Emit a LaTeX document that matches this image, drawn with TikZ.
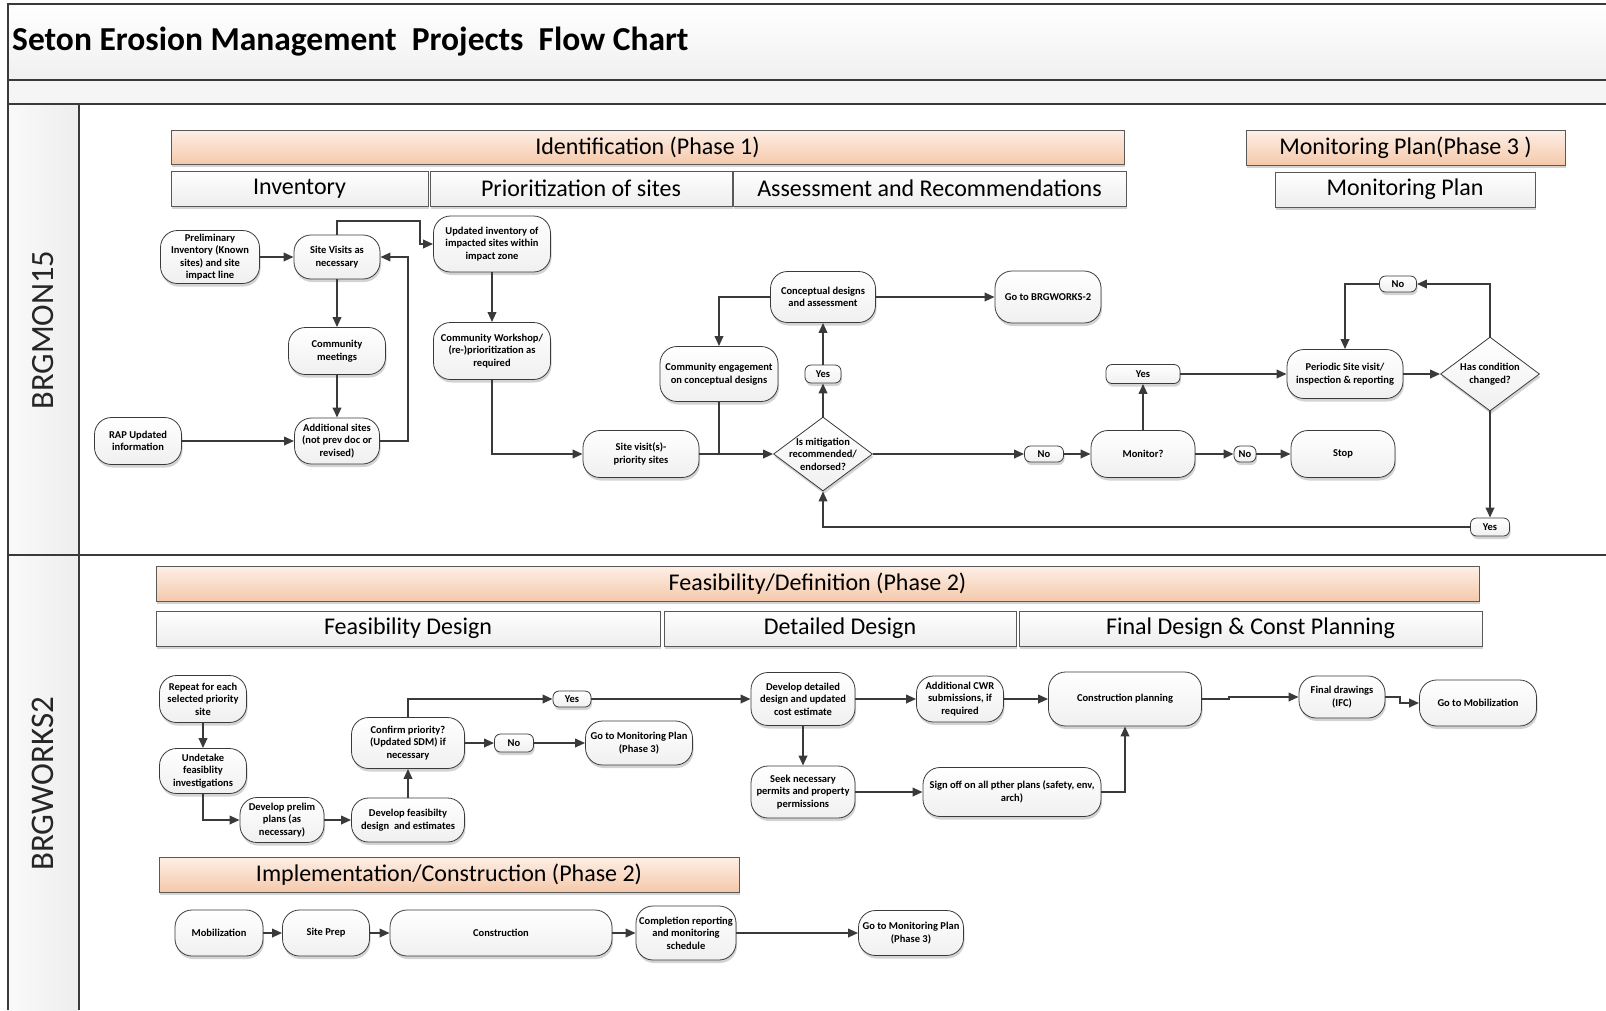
\documentclass[tikz,border=0pt]{standalone}
\usepackage{fontspec}
\setmainfont{Carlito}
\usetikzlibrary{shapes.geometric,arrows.meta,shadows}
\definecolor{lnc}{HTML}{3A3A3A}
\definecolor{peachT}{HTML}{FDEFE6}
\definecolor{peachB}{HTML}{F5C9AB}
\newcommand\nfont{\fontsize{10.5}{12.5}\selectfont\bfseries}
\newcommand\hfont{\fontsize{24}{28}\selectfont}
\tikzset{
  shad/.style={drop shadow={shadow xshift=1pt,shadow yshift=-3pt,opacity=0.35}},
  proc/.style 2 args={draw=lnc,line width=0.8pt,rounded corners=17pt,top color=white,bottom color=gray!12,
     minimum width=#1,minimum height=#2,inner sep=1pt,align=center,font=\nfont,shad},
  yn/.style 2 args={draw=lnc,line width=0.8pt,rounded corners=6pt,top color=white,bottom color=gray!12,
     minimum width=#1,minimum height=#2,inner sep=0pt,font=\nfont,shad},
  dia/.style={diamond,draw=lnc,line width=0.8pt,top color=white,bottom color=gray!12,
     minimum width=99pt,minimum height=74pt,inner sep=0pt,aspect=1.34,shad},
  dtext/.style={font=\nfont,align=center,inner sep=0pt},
  phase/.style 2 args={draw=gray!70!black,line width=0.8pt,top color=peachT,bottom color=peachB,
     minimum width=#1,minimum height=#2,inner sep=0pt,font=\hfont,shad},
  sub/.style 2 args={draw=gray!70!black,line width=0.8pt,top color=white,bottom color=gray!14,
     minimum width=#1,minimum height=#2,inner sep=0pt,font=\hfont,shad},
  conn/.style={draw=lnc,line width=2pt},
  arr/.style={draw=lnc,line width=2pt,-{Triangle[length=10pt,width=8.5pt]}},
  frame/.style={draw=lnc,line width=1.8pt},
}
\begin{document}
\begin{tikzpicture}[x=1pt,y=-1pt]
\useasboundingbox (0,0) rectangle (1606,1010);
% frame backgrounds
\fill[top color=white,bottom color=gray!12] (8,4) rectangle (1606,80);
\fill[gray!8] (8,80) rectangle (1606,104);
\fill[left color=gray!4,right color=gray!14] (8,104) rectangle (79,1010);
\draw[frame] (1606,4) -- (8,4) -- (8,1010);
\draw[frame] (8,80) -- (1606,80);
\draw[frame] (8,104) -- (1606,104);
\draw[frame] (79,104) -- (79,1010);
\draw[frame] (8,555) -- (1606,555);
\node[anchor=west,font=\fontsize{33.5}{38}\selectfont\bfseries,inner sep=0pt] (title) at (12,42) {Seton Erosion Management~ Projects~ Flow Chart};
\node[rotate=90,font=\fontsize{32.5}{38}\selectfont,text=black!85] (lane1) at (43,330) {BRGMON15};
\node[rotate=90,font=\fontsize{33}{38}\selectfont,text=black!85] (lane2) at (43,784) {BRGWORKS2};

% headers
\node[phase={953pt}{34pt}] (ph1) at (647.5,147) {Identification (Phase 1)};
\node[sub={257pt}{35pt}] (inv) at (299.5,188.5) {Inventory};
\node[sub={302pt}{35pt}] (prio) at (581,188.5) {Prioritization of sites};
\node[sub={393pt}{35pt}] (assess) at (929.5,188.5) {Assessment and Recommendations};
\node[phase={319pt}{35pt}] (ph3) at (1405.5,147.5) {Monitoring Plan(Phase 3 )};
\node[sub={260pt}{35pt}] (mplan) at (1405,189.5) {Monitoring Plan};
\node[phase={1323pt}{35pt}] (ph2) at (817.5,583.5) {Feasibility/Definition (Phase 2)};
\node[sub={504pt}{35pt}] (fdes) at (408,628.5) {Feasibility Design};
\node[sub={352pt}{35pt}] (ddes) at (840,628.5) {Detailed Design};
\node[sub={463pt}{35pt}] (fdcp) at (1250.5,628.5) {Final Design \& Const Planning};
\node[phase={580pt}{35pt}] (impl) at (449,874.5) {Implementation/Construction (Phase 2)};

% ---------- BRGMON15 lane ----------
\node[proc={99pt}{53pt}] (prelim) at (210,257) {Preliminary\\Inventory (Known\\sites) and site\\impact line};
\node[proc={86pt}{44pt}] (sv) at (337,257) {Site Visits as\\necessary};
\node[proc={117pt}{56pt}] (upd) at (492,244) {Updated inventory of\\impacted sites within\\impact zone};
\node[proc={97pt}{47pt}] (cm) at (337,351) {Community\\meetings};
\node[proc={117pt}{57pt}] (cw) at (492,351) {Community Workshop/\\(re-)prioritization as\\required};
\node[proc={87pt}{47pt}] (rap) at (138,441) {RAP Updated\\information};
\node[proc={85pt}{46pt}] (add) at (337,441) {Additional sites\\(not prev doc or\\revised)};
\node[proc={116pt}{47pt}] (svp) at (641,454) {Site visit(s)-\\priority sites};
\node[proc={118pt}{55pt}] (ce) at (719,374) {Community engagement\\on conceptual designs};
\node[proc={105pt}{51pt}] (cd) at (823,297) {Conceptual designs\\and assessment};
\node[proc={106pt}{52pt}] (gbw) at (1048,297) {Go to BRGWORKS-2};
\node[yn={36pt}{18pt}] (yes1) at (823,374) {Yes};
\node[dia] (mit) at (823,454) {};
\node[dtext] (mittxt) at (mit) {Is mitigation\\recommended/\\endorsed?};
\node[yn={39pt}{16pt}] (no1) at (1044,454) {No};
\node[proc={104pt}{47pt}] (mon) at (1143,454) {Monitor?};
\node[yn={22pt}{16pt}] (no2) at (1245,454) {No};
\node[proc={104pt}{47pt}] (stop) at (1343,454) {Stop};
\node[yn={74pt}{19pt}] (yes2) at (1143,374) {Yes};
\node[proc={116pt}{49pt}] (per) at (1345,374) {Periodic Site visit/\\inspection \& reporting};
\node[dia] (hcc) at (1490,374) {};
\node[dtext] (hcctxt) at (hcc) {Has condition\\changed?};
\node[yn={37pt}{16pt}] (no3) at (1398,284) {No};
\node[yn={39pt}{18pt}] (yes3) at (1490,527) {Yes};

\draw[arr] (prelim) -- (sv);
\draw[arr] (sv.north) -- (337,221) -- (420,221) |- (upd.west);
\draw[arr] (sv) -- (cm);
\draw[arr] (cm) -- (add);
\draw[arr] (rap) -- (add);
\draw[arr] (add.east) -- (408,441) |- (sv.east);
\draw[arr] (upd) -- (cw);
\draw[arr] (cw.south) |- (svp.west);
\draw[arr] (svp) -- (mit);
\draw[conn] (ce.south) -- (ce.south |- svp.east);
\draw[arr] (cd.west) -| (ce.north);
\draw[arr] (mit.north) -- (yes1.south);
\draw[arr] (yes1.north) -- (cd.south);
\draw[arr] (cd) -- (gbw);
\draw[arr] (mit.east) -- (no1.west);
\draw[arr] (no1) -- (mon);
\draw[arr] (mon) -- (no2);
\draw[arr] (no2) -- (stop);
\draw[arr] (mon.north) -- (yes2.south);
\draw[arr] (yes2) -- (per);
\draw[arr] (per) -- (hcc.west);
\draw[arr] (hcc.north) |- (no3.east);
\draw[arr] (no3.west) -| (per.north);
\draw[arr] (hcc.south) -- (yes3.north);
\draw[arr] (yes3.west) -| (mit.south);

% ---------- BRGWORKS2 lane ----------
\node[proc={87pt}{47pt}] (rep) at (203,699) {Repeat for each\\selected priority\\site};
\node[proc={87pt}{45pt}] (und) at (203,771) {Undetake\\feasiblity\\investigations};
\node[proc={84pt}{45pt}] (pre) at (282,820) {Develop prelim\\plans (as\\necessary)};
\node[proc={113pt}{44pt}] (dfe) at (408,820) {Develop feasibilty\\design~ and estimates};
\node[proc={113pt}{51pt}] (cp) at (408,743) {Confirm priority?\\(Updated SDM) if\\necessary};
\node[yn={38pt}{16pt}] (yes4) at (572,699) {Yes};
\node[yn={39pt}{18pt}] (no4) at (514,743) {No};
\node[proc={107pt}{44pt}] (gmp) at (639,743) {Go to Monitoring Plan\\(Phase 3)};
\node[proc={104pt}{53pt}] (ddd) at (803,699) {Develop detailed\\design and updated\\cost estimate};
\node[proc={87pt}{46pt}] (cwr) at (960,699) {Additional CWR\\submissions, if\\required};
\node[proc={153pt}{54pt}] (cpl) at (1125,699) {Construction planning};
\node[proc={86pt}{42pt}] (fdr) at (1342,697) {Final drawings\\(IFC)};
\node[proc={117pt}{46pt}] (gmob) at (1478,703) {Go to Mobilization};
\node[proc={104pt}{52pt}] (seek) at (803,792) {Seek necessary\\permits and property\\permissions};
\node[proc={178pt}{49pt}] (sign) at (1012,792) {Sign off on all pther plans (safety, env,\\arch)};

\draw[arr] (rep) -- (und);
\draw[arr] (und.south) |- (pre.west);
\draw[arr] (pre) -- (dfe);
\draw[arr] (dfe) -- (cp);
\draw[arr] (cp.north) |- (yes4.west);
\draw[arr] (yes4) -- (ddd);
\draw[arr] (cp) -- (no4);
\draw[arr] (no4) -- (gmp);
\draw[arr] (ddd) -- (cwr);
\draw[arr] (cwr) -- (cpl);
\draw[arr] (ddd) -- (seek);
\draw[arr] (seek) -- (sign);
\draw[arr] (sign.east) -| (cpl.south);
\draw[arr] (cpl.east) -- (1229,699) |- (fdr.west);
\draw[arr] (fdr.east) -- (1400,697) |- (gmob.west);

% implementation row
\node[proc={88pt}{46pt}] (mob) at (219,933) {Mobilization};
\node[proc={87pt}{46pt}] (sp) at (326,933) {Site Prep};
\node[proc={222pt}{46pt}] (con) at (501,933) {Construction};
\node[proc={100pt}{54pt}] (comp) at (686,933) {Completion reporting\\and monitoring\\schedule};
\node[proc={105pt}{45pt}] (gmp2) at (911,933) {Go to Monitoring Plan\\(Phase 3)};
\draw[arr] (mob) -- (sp);
\draw[arr] (sp) -- (con);
\draw[arr] (con) -- (comp);
\draw[arr] (comp) -- (gmp2);
\end{tikzpicture}
\end{document}
